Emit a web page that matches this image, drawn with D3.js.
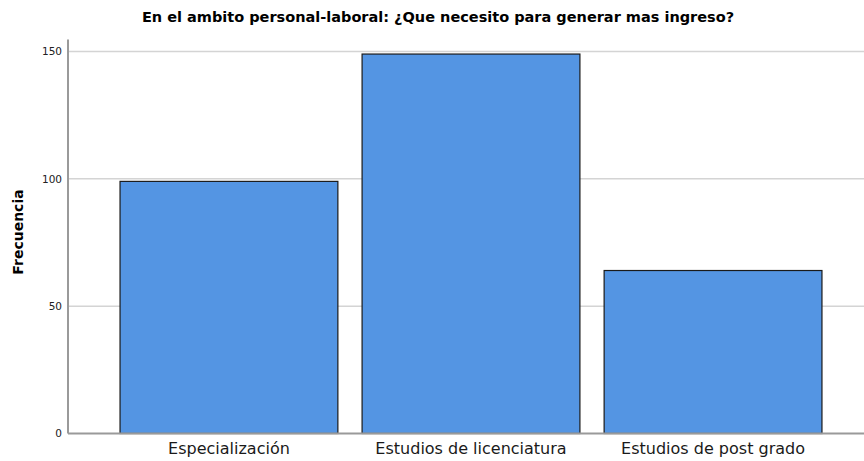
<!DOCTYPE html>
<html>
<head>
<meta charset="utf-8">
<script src="https://cdn.jsdelivr.net/npm/d3@7"></script>
<style>
  body { margin: 0; background: #fff; }
  svg { display: block; }
  .grid line { stroke: #d4d4d4; stroke-width: 1.5; }
  .axis path, .axis line { stroke: #9a9a9a; }
</style>
</head>
<body>
<div id="chart"></div>
<script>
var title = "En el ambito personal-laboral: ¿Que necesito para generar mas ingreso?"
var categories = ["Especialización", "Estudios de licenciatura", "Estudios de post grado"]
var counts = [99, 149, 64]
var yTicks = [0, 50, 100, 150]

var width = 864, height = 461
var plot = {left: 68, right: 874, top: 51.5, bottom: 433.5}

var svg = d3.select("#chart").append("svg")
  .attr("width", width)
  .attr("height", height)

var x = d3.scaleBand().domain(categories)
  .range([plot.left, plot.right])
  .paddingInner(0.1).paddingOuter(0.215)

var y = d3.scaleLinear().domain([0, 150]).range([plot.bottom, plot.top])

// gridlines
svg.append("g").classed("grid", true)
  .selectAll("line").data(yTicks.filter(d => d > 0)).enter().append("line")
  .attr("x1", plot.left).attr("x2", width)
  .attr("y1", d => y(d)).attr("y2", d => y(d))

// bars
svg.append("g").selectAll("rect").data(counts).enter().append("rect")
  .attr("x", (d, i) => x(categories[i]))
  .attr("y", d => y(d))
  .attr("width", x.bandwidth())
  .attr("height", d => y(0) - y(d))
  .style("fill", "#5495e3")
  .style("stroke", "#1a1a1a")
  .style("stroke-width", 1.2)

// y axis
var yAxis = svg.append("g").classed("axis", true)
  .attr("transform", "translate(" + plot.left + ",0)")
  .call(d3.axisLeft(y).tickValues(yTicks).tickSize(0).tickPadding(6).tickFormat(d3.format("d")))
yAxis.select(".domain").attr("d", "M0," + (plot.top - 12) + "V" + plot.bottom).style("stroke-width", 2)
yAxis.selectAll("text")
  .style("font-family", "DejaVu Sans").style("font-size", "10.5px").style("fill", "#222")

// x axis baseline
svg.append("line")
  .attr("x1", plot.left).attr("x2", width)
  .attr("y1", plot.bottom).attr("y2", plot.bottom)
  .style("stroke", "#9a9a9a").style("stroke-width", 2)

// category labels
svg.append("g").selectAll("text").data(categories).enter().append("text")
  .attr("x", d => x(d) + x.bandwidth() / 2)
  .attr("y", 454)
  .attr("text-anchor", "middle")
  .style("font-family", "DejaVu Sans").style("font-size", "16px").style("fill", "#1a1a1a")
  .text(d => d)

// title
svg.append("text")
  .attr("x", 438).attr("y", 22)
  .attr("text-anchor", "middle")
  .style("font-family", "DejaVu Sans").style("font-weight", "bold").style("font-size", "14.5px")
  .text(title)

// y label
svg.append("text")
  .attr("transform", "translate(23,232) rotate(-90)")
  .attr("text-anchor", "middle")
  .style("font-family", "DejaVu Sans").style("font-weight", "bold").style("font-size", "14px")
  .text("Frecuencia")
</script>
</body>
</html>
